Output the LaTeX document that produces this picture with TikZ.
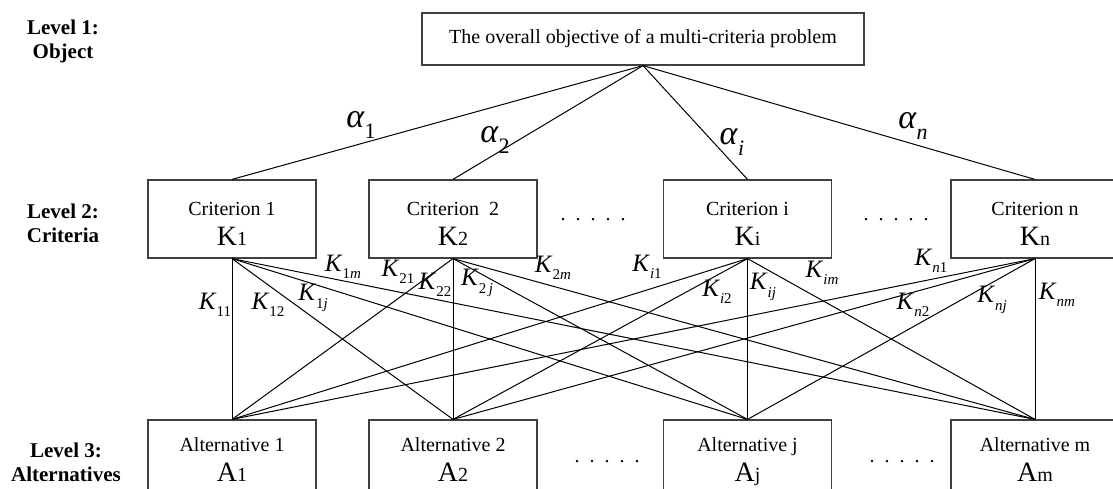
\documentclass[tikz,border=0pt]{standalone}
\usepackage{fontspec}
\setmainfont{Liberation Serif}
\usetikzlibrary{positioning}

\tikzset{
  box/.style={draw=black!75, line width=0.6pt, align=center, inner sep=0pt,
    font=\fontsize{10}{15}\selectfont},
  critbox/.style={box, minimum width=84pt, minimum height=39pt},
  altbox/.style={box, minimum width=84pt, minimum height=35pt},
  lvl/.style={align=center, font=\fontsize{10.5}{12}\selectfont\bfseries},
  wlab/.style={inner sep=0pt, font=\fontsize{17}{17}\selectfont},
  klab/.style={inner sep=0pt, font=\fontsize{12.5}{13}\selectfont},
  dotrow/.style={inner sep=0pt, font=\fontsize{10}{10}\selectfont},
  link/.style={black, line width=0.5pt}
}
% two-line box text, big letter with small index
\newcommand{\twoline}[3]{\rule{0pt}{14pt}#1\\{\fontsize{14}{15}\selectfont #2}#3\rule[-3pt]{0pt}{3pt}}
\newcommand{\wt}[1]{\textit{α}\raisebox{-0.3em}{\fontsize{11}{11}\selectfont #1}}
\newcommand{\kw}[1]{\textit{K}\raisebox{-0.3em}{\fontsize{7.5}{8}\selectfont #1}}
\newcommand{\fivedots}{.\hspace{5pt}.\hspace{5pt}.\hspace{5pt}.\hspace{5pt}.}

\begin{document}
\begin{tikzpicture}[x=0.5pt,y=-0.5pt]
  \useasboundingbox (0,0) rectangle (1113,488);

  % levels
  \node[lvl] (lvlone) at (63,41) {Level 1:\\Object};
  \node[lvl] (lvltwo) at (63,223) {Level 2:\\Criteria};
  \node[lvl] (lvlthree) at (66,462) {Level 3:\\Alternatives};

  % goal
  \node[box, minimum width=221pt, minimum height=26pt] (goal) at (643,39)
    {The overall objective of a multi-criteria problem};

  % criteria
  \node[critbox] (k1) at (232,219) {\twoline{Criterion 1}{K}{1}};
  \node[critbox] (k2) at (453,219) {\twoline{Criterion~~2}{K}{2}};
  \node[critbox] (ki) at (747.5,219) {\twoline{Criterion i}{K}{i}};
  \node[critbox] (kn) at (1035,219) {\twoline{Criterion n}{K}{n}};
  \node[dotrow] (dotsa) at (593,220) {\fivedots};
  \node[dotrow] (dotsb) at (896,220) {\fivedots};

  % alternatives
  \node[altbox] (a1) at (232,455) {\twoline{Alternative 1}{A}{1}};
  \node[altbox] (a2) at (453,455) {\twoline{Alternative 2}{A}{2}};
  \node[altbox] (aj) at (747.5,455) {\twoline{Alternative j}{A}{j}};
  \node[altbox] (am) at (1035,455) {\twoline{Alternative m}{A}{m}};
  \node[dotrow] (dotsc) at (607,462) {\fivedots};
  \node[dotrow] (dotsd) at (902,462) {\fivedots};

  % connectors
  \foreach \c in {k1,k2,ki,kn}
    \draw[link] (goal.south) -- (\c.north);
  \foreach \c in {k1,k2,ki,kn}
    \foreach \a in {a1,a2,aj,am}
      \draw[link] (\c.south) -- (\a.north);

  % weights
  \node[wlab] (w1) at (361,125) {\wt{1}};
  \node[wlab] (w2) at (495,140) {\wt{2}};
  \node[wlab] (wi) at (732,142) {\wt{\textit{i}}};
  \node[wlab] (wn) at (913,126) {\wt{\textit{n}}};

  % local weights
  \node[klab] (k11) at (215,305) {\kw{11}};
  \node[klab] (k12) at (268,305) {\kw{12}};
  \node[klab] (k1j) at (313,298) {\kw{1\textit{j}}};
  \node[klab] (k1m) at (343,267) {\kw{1\textit{m}}};
  \node[klab] (k21) at (398,272) {\kw{21}};
  \node[klab] (k22) at (435,285) {\kw{22}};
  \node[klab] (k2j) at (477,283) {\kw{2\,\textit{j}}};
  \node[klab] (k2m) at (553,268) {\kw{2\textit{m}}};
  \node[klab] (ki1) at (647,267) {\kw{\textit{i}1}};
  \node[klab] (ki2) at (717,292) {\kw{\textit{i}2}};
  \node[klab] (kij) at (763,287) {\kw{\textit{ij}}};
  \node[klab] (kim) at (822,273) {\kw{\textit{im}}};
  \node[klab] (kn1) at (931,261) {\kw{\textit{n}1}};
  \node[klab] (kn2) at (913,305) {\kw{\textit{n}2}};
  \node[klab] (knj) at (992,300) {\kw{\textit{nj}}};
  \node[klab] (knm) at (1057,295) {\kw{\textit{nm}}};
\end{tikzpicture}
\end{document}
